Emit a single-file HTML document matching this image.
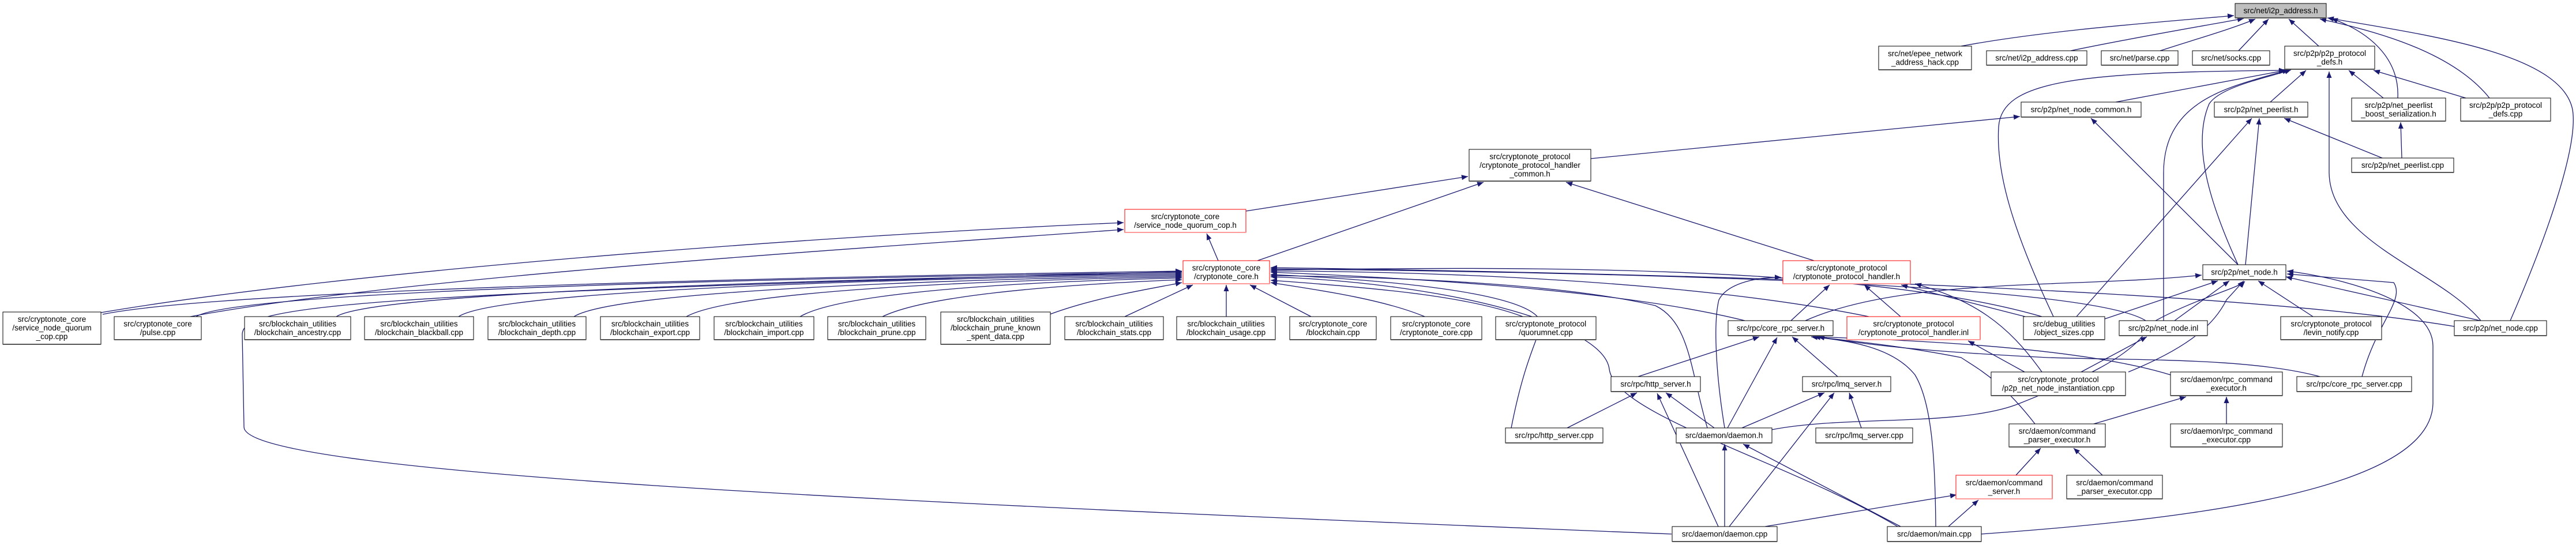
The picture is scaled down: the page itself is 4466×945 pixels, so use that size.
<!DOCTYPE html>
<html><head><meta charset="utf-8">
<style>
html,body{margin:0;padding:0;background:#fff;}
svg{display:block;}
text{font-family:"Liberation Sans",sans-serif;font-size:13.5px;fill:#000;text-anchor:middle;}
.e{fill:none;stroke:#191970;stroke-width:1.3;marker-end:url(#a);}
.b{fill:#fff;stroke:#000;stroke-width:1;}
.r{fill:#fff;stroke:#ff0000;stroke-width:1;}
.s{stroke:#555;stroke-width:2;}
.sr{stroke:#ff9a9a;stroke-width:2;}
</style></head>
<body>
<svg width="4466" height="945" viewBox="0 0 4466 945" xmlns="http://www.w3.org/2000/svg">
<defs>
<marker id="a" markerUnits="userSpaceOnUse" markerWidth="12" markerHeight="9" refX="11" refY="4.5" orient="auto">
<path d="M0,0 L11,4.5 L0,9 z" fill="#191970"/>
</marker>
</defs>

<!-- edges to i2p_address.h -->
<path class="e" d="M3400,80 C3550,52 3750,38 3873,27"/>
<path class="e" d="M3590,88 C3700,65 3820,45 3890,32"/>
<path class="e" d="M3745,88 C3800,70 3870,50 3910,33"/>
<path class="e" d="M3881,88 L3933,33"/>
<path class="e" d="M4020,80 L3968,33"/>
<path class="e" d="M4157,170 C4160,110 4120,60 4042,32"/>
<path class="e" d="M4316,170 C4260,100 4150,60 4022,33"/>
<path class="e" d="M4352,556 C4420,400 4470,250 4460,190 C4440,90 4200,60 4035,31"/>

<!-- edges to p2p_protocol_defs.h -->
<path class="e" d="M3668,177 L3962,122"/>
<path class="e" d="M3936,177 L3998,122"/>
<path class="e" d="M4132,170 L4072,122"/>
<path class="e" d="M4275,170 L4115,122"/>
<path class="e" d="M3560,549 C3490,400 3460,300 3465,220 C3470,140 3600,125 3962,122"/>
<path class="e" d="M3751,556 L3751,300 C3751,170 3870,150 3968,121"/>
<path class="e" d="M3880,459 C3830,350 3800,250 3830,180 C3850,150 3930,135 3972,121"/>
<path class="e" d="M4301,556 C4230,470 4040,420 4038,300 L4038,124"/>

<!-- to net_node_common.h -->
<path class="e" d="M3880,459 L3625,205"/>
<path class="e" d="M2758,275 L3502,202"/>
<!-- to net_peerlist.h -->
<path class="e" d="M4130,274 L3960,205"/>
<path class="e" d="M3893,459 L3917,205"/>
<path class="e" d="M3600,549 L3904,205"/>
<!-- to boost serialization -->
<path class="e" d="M4164,274 L4162,212"/>

<!-- to handler_common.h -->
<path class="e" d="M2160,366 L2545,306"/>
<path class="e" d="M2180,452 L2572,316"/>
<path class="e" d="M3145,452 L2715,316"/>

<!-- to quorum_cop.h -->
<path class="e" d="M2112,452 L2092,405"/>
<path class="e" d="M175,542 C600,470 1400,410 1948,386"/>
<path class="e" d="M330,549 C700,480 1500,430 1948,398"/>

<!-- left fan to cryptonote_core.h -->
<path class="e" d="M178,545 C400,500 1500,478 2049,470"/>
<path class="e" d="M340,549 C420,500 1500,480 2049,472"/>
<path class="e" d="M583,549 C650,505 1500,482 2049,474"/>
<path class="e" d="M795,549 C860,505 1500,484 2049,476"/>
<path class="e" d="M995,549 C1060,508 1550,486 2049,478"/>
<path class="e" d="M1190,549 C1260,510 1600,488 2049,480"/>
<path class="e" d="M1387,549 C1450,512 1700,490 2049,482"/>
<path class="e" d="M1530,549 C1600,515 1800,495 2049,485"/>
<path class="e" d="M1820,545 C1900,515 2000,500 2049,490"/>
<path class="e" d="M1950,549 L2068,494"/>
<path class="e" d="M2126,549 L2126,494"/>
<path class="e" d="M2273,549 L2167,494"/>
<path class="e" d="M2470,549 C2400,520 2300,505 2203,490"/>
<path class="e" d="M2640,549 C2550,515 2400,500 2203,486"/>
<path class="e" d="M2898,926 C1500,870 420,820 423,740 L420,580 C420,530 600,510 2049,471"/>
<!-- right fan to cryptonote_core.h -->
<path class="e" d="M3025,556 C2800,500 2400,480 2203,472"/>
<path class="e" d="M3240,549 C2900,480 2400,470 2203,470"/>
<path class="e" d="M3540,549 C3200,450 2500,465 2203,468"/>
<path class="e" d="M3720,556 C3600,480 2500,470 2203,466"/>
<path class="e" d="M4255,566 C3800,490 2600,470 2203,464"/>
<path class="e" d="M2620,742 C2640,640 2660,600 2670,570 C2690,520 2500,490 2203,476"/>
<path class="e" d="M2960,742 C2930,640 2930,560 2870,530 C2700,490 2400,480 2203,478"/>
<path class="e" d="M3290,913 C3100,800 2800,720 2790,640 C2780,560 2500,490 2203,480"/>

<!-- to handler.h -->
<path class="e" d="M3105,556 L3172,494"/>
<path class="e" d="M3295,549 L3232,494"/>
<path class="e" d="M3511,549 L3296,494"/>
<path class="e" d="M3540,645 C3480,560 3420,520 3320,492"/>
<path class="e" d="M2990,742 C2975,650 2970,560 2980,520 C2995,490 3050,480 3088,481"/>

<!-- to net_node.h -->
<path class="e" d="M3130,556 C3300,480 3600,500 3817,477"/>
<path class="e" d="M3640,556 L3845,487"/>
<path class="e" d="M3770,556 L3865,487"/>
<path class="e" d="M3690,645 C3800,600 3840,560 3860,520 L3890,487"/>
<path class="e" d="M3072,745 C3200,720 3400,740 3500,700 C3600,660 3700,620 3730,560 C3800,520 3880,500 3892,488"/>
<path class="e" d="M4010,549 L3915,487"/>
<path class="e" d="M4300,556 L3963,480"/>
<path class="e" d="M4095,653 C4120,560 4170,520 4150,490 L3965,475"/>
<path class="e" d="M3435,926 C3800,900 4214,850 4218,700 L4218,600 C4218,520 4050,480 3965,470"/>

<!-- to core_rpc_server.h -->
<path class="e" d="M2840,653 L3050,584"/>
<path class="e" d="M3186,653 L3107,584"/>
<path class="e" d="M2995,742 L3081,585"/>
<path class="e" d="M3356,913 C3355,800 3350,700 3320,650 C3280,600 3200,590 3140,584"/>
<path class="e" d="M3528,735 C3470,660 3430,640 3400,620 C3300,600 3200,590 3145,584"/>
<path class="e" d="M3763,650 C3600,600 3300,590 3150,584"/>
<path class="e" d="M4022,653 C3900,620 3700,625 3550,620 C3350,610 3250,600 3152,584"/>

<!-- misc -->
<path class="e" d="M3510,645 L3412,591"/>
<path class="e" d="M3608,645 L3722,584"/>
<path class="e" d="M2717,742 L2838,681"/>
<path class="e" d="M2972,742 L2888,681"/>
<path class="e" d="M2979,913 L2873,682"/>
<path class="e" d="M3227,742 L3206,681"/>
<path class="e" d="M3020,742 L3163,681"/>
<path class="e" d="M2998,913 L3180,681"/>
<path class="e" d="M2990,913 L2990,770"/>
<path class="e" d="M3295,913 L3022,770"/>
<path class="e" d="M3630,735 L3790,688"/>
<path class="e" d="M3860,735 L3860,688"/>
<path class="e" d="M3495,824 L3538,777"/>
<path class="e" d="M3645,824 L3595,777"/>
<path class="e" d="M3060,913 L3392,858"/>
<path class="e" d="M3378,913 L3430,867"/>

<!-- nodes -->
<rect x="3875" y="6" width="158" height="25" fill="#bfbfbf" stroke="#000"/><line class="s" x1="3875" y1="31" x2="4033" y2="31"/><text x="3954" y="23">src/net/i2p_address.h</text>

<rect class="b" x="3257" y="80" width="161" height="41"/><line class="s" x1="3257" y1="121" x2="3418" y2="121"/><text x="3337.5" y="97.5">src/net/epee_network</text><text x="3337.5" y="112.5">_address_hack.cpp</text>
<rect class="b" x="3444" y="88" width="174" height="25"/><line class="s" x1="3444" y1="113" x2="3618" y2="113"/><text x="3531" y="105">src/net/i2p_address.cpp</text>
<rect class="b" x="3643" y="88" width="133" height="25"/><line class="s" x1="3643" y1="113" x2="3776" y2="113"/><text x="3709.5" y="105">src/net/parse.cpp</text>
<rect class="b" x="3801" y="88" width="134" height="25"/><line class="s" x1="3801" y1="113" x2="3935" y2="113"/><text x="3868" y="105">src/net/socks.cpp</text>
<rect class="b" x="3961" y="80" width="156" height="40"/><line class="s" x1="3961" y1="120" x2="4117" y2="120"/><text x="4039" y="97">src/p2p/p2p_protocol</text><text x="4039" y="112">_defs.h</text>

<rect class="b" x="3504" y="177" width="208" height="26"/><line class="s" x1="3504" y1="203" x2="3712" y2="203"/><text x="3608" y="194.5">src/p2p/net_node_common.h</text>
<rect class="b" x="3839" y="177" width="162" height="26"/><line class="s" x1="3839" y1="203" x2="4001" y2="203"/><text x="3920" y="194.5">src/p2p/net_peerlist.h</text>
<rect class="b" x="4077" y="170" width="163" height="40"/><line class="s" x1="4077" y1="210" x2="4240" y2="210"/><text x="4158.5" y="187">src/p2p/net_peerlist</text><text x="4158.5" y="202">_boost_serialization.h</text>
<rect class="b" x="4266" y="170" width="156" height="40"/><line class="s" x1="4266" y1="210" x2="4422" y2="210"/><text x="4344" y="187">src/p2p/p2p_protocol</text><text x="4344" y="202">_defs.cpp</text>
<rect class="b" x="4077" y="274" width="177" height="25"/><line class="s" x1="4077" y1="299" x2="4254" y2="299"/><text x="4165.5" y="291">src/p2p/net_peerlist.cpp</text>

<rect class="b" x="2547" y="259" width="211" height="55"/><line class="s" x1="2547" y1="314" x2="2758" y2="314"/><text x="2652.5" y="276">src/cryptonote_protocol</text><text x="2652.5" y="291">/cryptonote_protocol_handler</text><text x="2652.5" y="306">_common.h</text>
<rect class="r" x="1950" y="363" width="210" height="40"/><line class="sr" x1="1950" y1="403" x2="2160" y2="403"/><text x="2055" y="380">src/cryptonote_core</text><text x="2055" y="395">/service_node_quorum_cop.h</text>
<rect class="r" x="2051" y="452" width="150" height="40"/><line class="sr" x1="2051" y1="492" x2="2201" y2="492"/><text x="2126" y="469">src/cryptonote_core</text><text x="2126" y="484">/cryptonote_core.h</text>
<rect class="r" x="3091" y="452" width="221" height="40"/><line class="sr" x1="3091" y1="492" x2="3312" y2="492"/><text x="3201.5" y="469">src/cryptonote_protocol</text><text x="3201.5" y="484">/cryptonote_protocol_handler.h</text>
<rect class="b" x="3819" y="459" width="144" height="26"/><line class="s" x1="3819" y1="485" x2="3963" y2="485"/><text x="3891" y="476.5">src/p2p/net_node.h</text>

<rect class="b" x="5" y="541" width="170" height="56"/><line class="s" x1="5" y1="597" x2="175" y2="597"/><text x="90" y="558">src/cryptonote_core</text><text x="90" y="573">/service_node_quorum</text><text x="90" y="588">_cop.cpp</text>
<rect class="b" x="198" y="549" width="151" height="40"/><line class="s" x1="198" y1="589" x2="349" y2="589"/><text x="273.5" y="566">src/cryptonote_core</text><text x="273.5" y="581">/pulse.cpp</text>
<rect class="b" x="424" y="549" width="184" height="40"/><line class="s" x1="424" y1="589" x2="608" y2="589"/><text x="516" y="566">src/blockchain_utilities</text><text x="516" y="581">/blockchain_ancestry.cpp</text>
<rect class="b" x="632" y="549" width="189" height="40"/><line class="s" x1="632" y1="589" x2="821" y2="589"/><text x="726.5" y="566">src/blockchain_utilities</text><text x="726.5" y="581">/blockchain_blackball.cpp</text>
<rect class="b" x="846" y="549" width="170" height="40"/><line class="s" x1="846" y1="589" x2="1016" y2="589"/><text x="931" y="566">src/blockchain_utilities</text><text x="931" y="581">/blockchain_depth.cpp</text>
<rect class="b" x="1041" y="549" width="172" height="40"/><line class="s" x1="1041" y1="589" x2="1213" y2="589"/><text x="1127" y="566">src/blockchain_utilities</text><text x="1127" y="581">/blockchain_export.cpp</text>
<rect class="b" x="1238" y="549" width="173" height="40"/><line class="s" x1="1238" y1="589" x2="1411" y2="589"/><text x="1324.5" y="566">src/blockchain_utilities</text><text x="1324.5" y="581">/blockchain_import.cpp</text>
<rect class="b" x="1435" y="549" width="170" height="40"/><line class="s" x1="1435" y1="589" x2="1605" y2="589"/><text x="1520" y="566">src/blockchain_utilities</text><text x="1520" y="581">/blockchain_prune.cpp</text>
<rect class="b" x="1631" y="541" width="190" height="56"/><line class="s" x1="1631" y1="597" x2="1821" y2="597"/><text x="1726" y="558">src/blockchain_utilities</text><text x="1726" y="573">/blockchain_prune_known</text><text x="1726" y="588">_spent_data.cpp</text>
<rect class="b" x="1846" y="549" width="171" height="40"/><line class="s" x1="1846" y1="589" x2="2017" y2="589"/><text x="1931.5" y="566">src/blockchain_utilities</text><text x="1931.5" y="581">/blockchain_stats.cpp</text>
<rect class="b" x="2040" y="549" width="171" height="40"/><line class="s" x1="2040" y1="589" x2="2211" y2="589"/><text x="2125.5" y="566">src/blockchain_utilities</text><text x="2125.5" y="581">/blockchain_usage.cpp</text>
<rect class="b" x="2236" y="549" width="150" height="40"/><line class="s" x1="2236" y1="589" x2="2386" y2="589"/><text x="2311" y="566">src/cryptonote_core</text><text x="2311" y="581">/blockchain.cpp</text>
<rect class="b" x="2411" y="549" width="158" height="40"/><line class="s" x1="2411" y1="589" x2="2569" y2="589"/><text x="2490" y="566">src/cryptonote_core</text><text x="2490" y="581">/cryptonote_core.cpp</text>
<rect class="b" x="2593" y="549" width="174" height="40"/><line class="s" x1="2593" y1="589" x2="2767" y2="589"/><text x="2680" y="566">src/cryptonote_protocol</text><text x="2680" y="581">/quorumnet.cpp</text>

<rect class="b" x="2996" y="556" width="182" height="26"/><line class="s" x1="2996" y1="582" x2="3178" y2="582"/><text x="3087" y="573.5">src/rpc/core_rpc_server.h</text>
<rect class="r" x="3202" y="549" width="231" height="40"/><line class="sr" x1="3202" y1="589" x2="3433" y2="589"/><text x="3317.5" y="566">src/cryptonote_protocol</text><text x="3317.5" y="581">/cryptonote_protocol_handler.inl</text>
<rect class="b" x="3508" y="549" width="141" height="40"/><line class="s" x1="3508" y1="589" x2="3649" y2="589"/><text x="3578.5" y="566">src/debug_utilities</text><text x="3578.5" y="581">/object_sizes.cpp</text>
<rect class="b" x="3674" y="556" width="153" height="26"/><line class="s" x1="3674" y1="582" x2="3827" y2="582"/><text x="3750.5" y="573.5">src/p2p/net_node.inl</text>
<rect class="b" x="3954" y="549" width="175" height="40"/><line class="s" x1="3954" y1="589" x2="4129" y2="589"/><text x="4041.5" y="566">src/cryptonote_protocol</text><text x="4041.5" y="581">/levin_notify.cpp</text>
<rect class="b" x="4255" y="556" width="160" height="26"/><line class="s" x1="4255" y1="582" x2="4415" y2="582"/><text x="4335" y="573.5">src/p2p/net_node.cpp</text>

<rect class="b" x="2793" y="653" width="155" height="26"/><line class="s" x1="2793" y1="679" x2="2948" y2="679"/><text x="2870.5" y="670.5">src/rpc/http_server.h</text>
<rect class="b" x="3125" y="653" width="153" height="26"/><line class="s" x1="3125" y1="679" x2="3278" y2="679"/><text x="3201.5" y="670.5">src/rpc/lmq_server.h</text>
<rect class="b" x="3452" y="645" width="233" height="41"/><line class="s" x1="3452" y1="686" x2="3685" y2="686"/><text x="3568.5" y="662.5">src/cryptonote_protocol</text><text x="3568.5" y="677.5">/p2p_net_node_instantiation.cpp</text>
<rect class="b" x="3763" y="645" width="194" height="41"/><line class="s" x1="3763" y1="686" x2="3957" y2="686"/><text x="3860" y="662.5">src/daemon/rpc_command</text><text x="3860" y="677.5">_executor.h</text>
<rect class="b" x="3982" y="653" width="199" height="26"/><line class="s" x1="3982" y1="679" x2="4181" y2="679"/><text x="4081.5" y="670.5">src/rpc/core_rpc_server.cpp</text>

<rect class="b" x="2610" y="742" width="169" height="26"/><line class="s" x1="2610" y1="768" x2="2779" y2="768"/><text x="2694.5" y="759.5">src/rpc/http_server.cpp</text>
<rect class="b" x="2906" y="742" width="166" height="26"/><line class="s" x1="2906" y1="768" x2="3072" y2="768"/><text x="2989" y="759.5">src/daemon/daemon.h</text>
<rect class="b" x="3148" y="742" width="168" height="26"/><line class="s" x1="3148" y1="768" x2="3316" y2="768"/><text x="3232" y="759.5">src/rpc/lmq_server.cpp</text>
<rect class="b" x="3483" y="735" width="167" height="40"/><line class="s" x1="3483" y1="775" x2="3650" y2="775"/><text x="3566.5" y="752">src/daemon/command</text><text x="3566.5" y="767">_parser_executor.h</text>
<rect class="b" x="3763" y="735" width="194" height="40"/><line class="s" x1="3763" y1="775" x2="3957" y2="775"/><text x="3860" y="752">src/daemon/rpc_command</text><text x="3860" y="767">_executor.cpp</text>

<rect class="r" x="3391" y="824" width="167" height="41"/><line class="sr" x1="3391" y1="865" x2="3558" y2="865"/><text x="3474.5" y="841.5">src/daemon/command</text><text x="3474.5" y="856.5">_server.h</text>
<rect class="b" x="3583" y="824" width="166" height="41"/><line class="s" x1="3583" y1="865" x2="3749" y2="865"/><text x="3666" y="841.5">src/daemon/command</text><text x="3666" y="856.5">_parser_executor.cpp</text>

<rect class="b" x="2899" y="913" width="182" height="26"/><line class="s" x1="2899" y1="939" x2="3081" y2="939"/><text x="2990" y="930.5">src/daemon/daemon.cpp</text>
<rect class="b" x="3272" y="913" width="163" height="26"/><line class="s" x1="3272" y1="939" x2="3435" y2="939"/><text x="3353.5" y="930.5">src/daemon/main.cpp</text>
</svg>
</body></html>
